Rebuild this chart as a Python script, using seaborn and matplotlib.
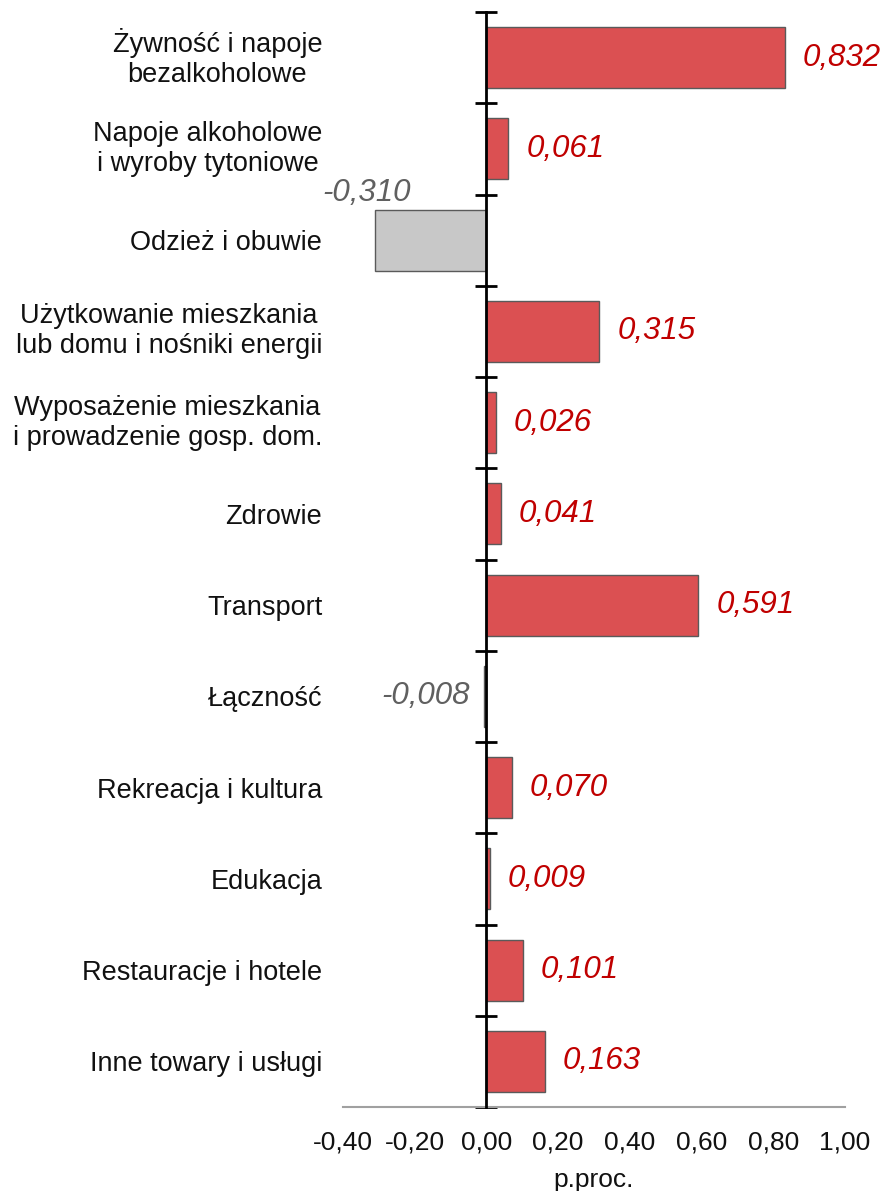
import matplotlib
matplotlib.use("Agg")
import matplotlib.pyplot as plt
import seaborn as sns
import pandas as pd
import numpy as np
from matplotlib.ticker import FixedLocator, FuncFormatter

categories = [
    "Żywność i napoje\nbezalkoholowe",
    "Napoje alkoholowe\ni wyroby tytoniowe",
    "Odzież i obuwie",
    "Użytkowanie mieszkania\nlub domu i nośniki energii",
    "Wyposażenie mieszkania\ni prowadzenie gosp. dom.",
    "Zdrowie",
    "Transport",
    "Łączność",
    "Rekreacja i kultura",
    "Edukacja",
    "Restauracje i hotele",
    "Inne towary i usługi",
]
values = [0.832, 0.061, -0.310, 0.315, 0.026, 0.041, 0.591, -0.008, 0.070, 0.009, 0.101, 0.163]
x_ticks = [-0.4, -0.2, 0.0, 0.2, 0.4, 0.6, 0.8, 1.0]
x_label = "p.proc."

RED = "#DB5052"
GRAY = "#C8C8C8"
RED_TXT = "#C00000"
GRAY_TXT = "#606060"

sns.set_style("white")
plt.rcParams["font.family"] = ["Liberation Sans", "DejaVu Sans"]

df = pd.DataFrame({"cat": categories, "val": values})
colors = [RED if v >= 0 else GRAY for v in values]

fig = plt.figure(figsize=(8.85, 11.91), dpi=100)
ax = fig.add_axes([343 / 885, 1 - 1107 / 1191, (845 - 343) / 885, (1107 - 12) / 1191])

sns.barplot(data=df, x="val", y="cat", hue="cat", palette=colors, legend=False,
            orient="h", width=0.67, saturation=1, edgecolor="#5a5a5a", linewidth=1.0, ax=ax)

ax.set_xlim(-0.4, 1.0)
ax.set_ylim(len(categories) - 0.5, -0.5)

# x axis
ax.set_xticks(x_ticks)
ax.xaxis.set_major_formatter(FuncFormatter(lambda v, p: f"{v:.2f}".replace(".", ",").replace("-0,00", "0,00")))
ax.tick_params(axis="x", length=0, pad=17, labelsize=19, labelcolor="#111111")
ax.set_xlabel(x_label, fontsize=19, labelpad=10, color="#111111")
ax.set_ylabel("")

# y axis labels on the left, zero-line spine with boundary ticks
ax.tick_params(axis="y", which="major", length=0, pad=15, labelsize=19.5, labelcolor="#111111")

for s in ["top", "left"]:
    ax.spines[s].set_visible(False)
ax.spines["bottom"].set_color("#A0A0A0")
ax.spines["bottom"].set_linewidth(1.5)
ax.spines["right"].set_position(("data", 0))
ax.spines["right"].set_color("black")
ax.spines["right"].set_linewidth(2)
ax.spines["right"].set_zorder(5)
ax.yaxis.set_minor_locator(FixedLocator(np.arange(-0.5, len(categories), 1.0)))
ax.tick_params(axis="y", which="minor", left=False, right=True, direction="inout",
               length=16, width=2, color="black")

# value labels
for i, v in enumerate(values):
    txt = f"{v:.3f}".replace(".", ",")
    if v >= 0:
        ax.annotate(txt, xy=(v, i), xytext=(18, 0), textcoords="offset pixels",
                    ha="left", va="center", fontsize=22.5, style="italic", color=RED_TXT)
    elif v < -0.2:
        ax.annotate(txt, xy=(v, i - 0.335), xytext=(-53, 17), textcoords="offset pixels",
                    ha="left", va="center", fontsize=22.5, style="italic", color=GRAY_TXT,
                    annotation_clip=False)
    else:
        ax.annotate(txt, xy=(v, i), xytext=(-14, 0), textcoords="offset pixels",
                    ha="right", va="center", fontsize=22.5, style="italic", color=GRAY_TXT)

fig.canvas.draw()
for tick in ax.yaxis.get_major_ticks():
    lab = tick.label1
    lab.set_multialignment("center")
    lab.set_linespacing(1.2)
    if "\n" in lab.get_text():
        lab.set_verticalalignment("center")

fig.savefig("out.png", dpi=100)
